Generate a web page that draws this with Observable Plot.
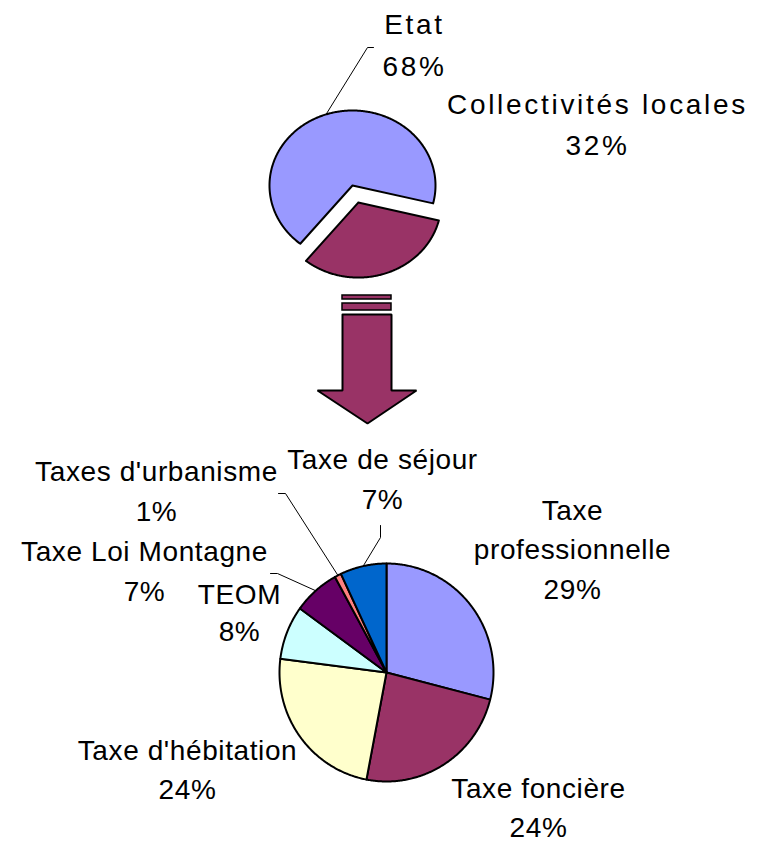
<!DOCTYPE html>
<html><head><meta charset="utf-8">
<script src="https://cdn.jsdelivr.net/npm/d3@7"></script>
<script src="https://cdn.jsdelivr.net/npm/@observablehq/plot@0.6"></script>
<style>
body{margin:0;background:#fff} svg{display:block}
</style>
</head><body><div id="chart"></div>
<script>
// ---- data ----
const topCategories = ["Etat", "Collectivités locales"];
const topValues = [68, 32];
const topColors = ["#9999FF", "#993366"];

const bottomCategories = ["Taxe professionnelle", "Taxe foncière", "Taxe d'hébitation", "TEOM", "Taxe Loi Montagne", "Taxes d'urbanisme", "Taxe de séjour"];
const bottomValues = [29, 24, 24, 8, 7, 1, 7];
const bottomColors = ["#9999FF", "#993366", "#FFFFCC", "#CCFFFF", "#660066", "#FF8080", "#0066CC"];

// ---- layout (pixel positions) ----
const W = 761, H = 842;
const topPie = {cx: 352, cy: 185, rx: 83, ry: 75, start: 219, explode: {"Collectivités locales": 18}};
const bottomPie = {cx: 386, cy: 672, rx: 107, ry: 109, start: 0, explode: {}};
const labelLayout = {
  "Etat": {x: 414, y: 75, lh: 1.5, group: "top"},
  "Collectivités locales": {x: 597, y: 154, lh: 1.46, group: "top"},
  "Taxe professionnelle": {x: 572, y: 598, lh: 1.4, wrap: "Taxe\nprofessionnelle"},
  "Taxe foncière": {x: 538, y: 836, lh: 1.38},
  "Taxe d'hébitation": {x: 187, y: 798, lh: 1.36},
  "TEOM": {x: 239, y: 640, lh: 1.32},
  "Taxe Loi Montagne": {x: 144, y: 600, lh: 1.42},
  "Taxes d'urbanisme": {x: 156, y: 520, lh: 1.4},
  "Taxe de séjour": {x: 382, y: 508, lh: 1.42}
};
const letterSpacing = {top: "2.7px", bottom: "0.6px"};
const leaderStart = {
  "Etat": [[373, 47], [367, 47]],
  "Taxes d'urbanisme": [[278, 493], [285, 493]],
  "Taxe de séjour": [[380, 525], [380, 537]],
  "Taxe Loi Montagne": [[270, 573], [277, 573]]
};

function pieGeometry(cats, vals, colors, pie) {
  const a0 = pie.start * Math.PI / 180;
  const arcs = d3.pie().sort(null).value(d => d).startAngle(a0).endAngle(a0 + 2 * Math.PI)(vals);
  const polys = [], mids = {};
  arcs.forEach((a, i) => {
    const mid = (a.startAngle + a.endAngle) / 2;
    const off = pie.explode[cats[i]] || 0;
    const cx = pie.cx + off * Math.sin(mid), cy = pie.cy - off * Math.cos(mid);
    mids[cats[i]] = [cx + pie.rx * Math.sin(mid), cy - pie.ry * Math.cos(mid)];
    const n = Math.max(2, Math.ceil((a.endAngle - a.startAngle) / 0.01));
    const pts = [[cx, cy]];
    for (let k = 0; k <= n; k++) {
      const t = a.startAngle + (a.endAngle - a.startAngle) * k / n;
      pts.push([cx + pie.rx * Math.sin(t), cy - pie.ry * Math.cos(t)]);
    }
    pts.push([cx, cy]);
    pts.forEach(p => polys.push({name: cats[i], color: colors[i], x: p[0], y: p[1]}));
  });
  return {polys, mids};
}

const topG = pieGeometry(topCategories, topValues, topColors, topPie);
const botG = pieGeometry(bottomCategories, bottomValues, bottomColors, bottomPie);

const labels = [];
topCategories.forEach((c, i) => labels.push({name: c, v: topValues[i]}));
bottomCategories.forEach((c, i) => labels.push({name: c, v: bottomValues[i]}));
const labelRows = labels.map(d => {
  const L = labelLayout[d.name];
  return {x: L.x, y: L.y, lh: L.lh, group: L.group || "bottom", text: (L.wrap || d.name) + "\n" + d.v + "%"};
});

const leaders = [];
Object.entries(leaderStart).forEach(([name, pts]) => {
  const end = topG.mids[name] || botG.mids[name];
  [...pts, end].forEach(p => leaders.push({name, x: p[0], y: p[1]}));
});

// arrow shape (layout)
const arrowBars = [{y1: 295, y2: 299}, {y1: 303, y2: 310}];
const arrowPoly = [[342, 314], [391, 314], [391, 390], [416, 390], [367, 423], [317, 390], [342, 390], [342, 314]]
  .map(p => ({x: p[0], y: p[1]}));

const font = "'Liberation Sans', Arial, Helvetica, sans-serif";
const textMarks = [], textGroups = [];
for (const group of ["top", "bottom"]) {
  const rows = labelRows.filter(d => d.group === group);
  for (const lh of [...new Set(rows.map(d => d.lh))]) {
    textGroups.push(group);
    textMarks.push(Plot.text(rows.filter(d => d.lh === lh), {
      x: "x", y: "y", text: "text", fontSize: 28, lineAnchor: "bottom", lineHeight: lh,
      fill: "black", fontFamily: font, textAnchor: "middle"
    }));
  }
}

const chart = Plot.plot({
  width: W, height: H,
  margin: 0,
  x: {domain: [0, W], range: [0, W], axis: null},
  y: {domain: [0, H], range: [0, H], axis: null},
  color: {type: "identity"},
  style: {fontFamily: font, background: "white"},
  marks: [
    Plot.line(topG.polys, {x: "x", y: "y", z: "name", fill: "color", stroke: "black", strokeWidth: 2, strokeLinejoin: "round"}),
    Plot.rect(arrowBars, {x1: () => 342, x2: () => 391, y1: "y1", y2: "y2", fill: "#993366", stroke: "black", strokeWidth: 1.5}),
    Plot.line(arrowPoly, {x: "x", y: "y", fill: "#993366", stroke: "black", strokeWidth: 2, strokeLinejoin: "miter"}),
    Plot.line(botG.polys, {x: "x", y: "y", z: "name", fill: "color", stroke: "black", strokeWidth: 2, strokeLinejoin: "round"}),
    Plot.line(leaders, {x: "x", y: "y", z: "name", stroke: "black", strokeWidth: 1}),
    ...textMarks
  ]
});
// apply letter spacing per label group (text marks appear in order)
d3.select(chart).selectAll('g[aria-label="text"]').each(function (_, i) {
  this.style.letterSpacing = letterSpacing[textGroups[i]];
});
document.getElementById("chart").append(chart);
</script>
</body></html>
